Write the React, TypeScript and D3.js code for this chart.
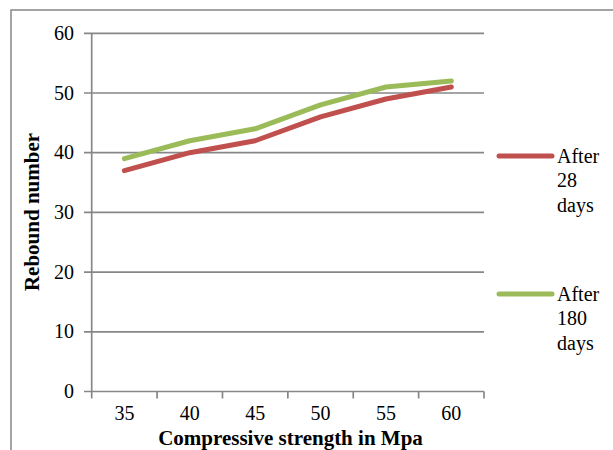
import React from "react";
import * as d3 from "d3";

const categories = ["35", "40", "45", "50", "55", "60"];
const after28 = [37, 40, 42, 46, 49, 51];
const after180 = [39, 42, 44, 48, 51, 52];
const yTicks = [0, 10, 20, 30, 40, 50, 60];
const seriesNames = [["After", "28", "days"], ["After", "180", "days"]];
const colors = ["#C0504D", "#9BBB59"];

export default function App() {
  const left = 91.7, right = 484, top = 33.3, bottom = 391.5;
  const x = d3.scaleBand().domain(categories).range([left, right]);
  const y = d3.scaleLinear().domain([0, 60]).range([bottom, top]);
  const line = d3
    .line<number>()
    .x((_, i) => (x(categories[i]) as number) + x.bandwidth() / 2)
    .y((d) => y(d));
  const series = [after28, after180];
  const grid = "#878787";
  const font = "'Liberation Serif', 'Times New Roman', serif";
  const legendY = [156, 294];
  return (
    <svg
      width={613}
      height={450}
      style={{ position: "absolute", left: 0, top: 0, background: "#fff" }}
      fontFamily={font}
    >
      <rect x={11} y={10} width={700} height={600} fill="#fff" stroke={grid} strokeWidth={1.5} />
      {yTicks.map((t) => (
        <g key={t}>
          <line x1={84} x2={right} y1={y(t)} y2={y(t)} stroke={grid} strokeWidth={1.7} />
          <text x={74} y={y(t) + 6.5} textAnchor="end" fontSize={20} fill="#000">
            {t}
          </text>
        </g>
      ))}
      <line x1={left} x2={left} y1={top} y2={bottom} stroke={grid} strokeWidth={1.7} />
      {[...categories.map((c) => x(c) as number), right].map((v, i) => (
        <line key={i} x1={v} x2={v} y1={bottom} y2={bottom + 7} stroke={grid} strokeWidth={1.7} />
      ))}
      {categories.map((c) => (
        <text
          key={c}
          x={(x(c) as number) + x.bandwidth() / 2}
          y={420}
          textAnchor="middle"
          fontSize={20}
          fill="#000"
        >
          {c}
        </text>
      ))}
      {series.map((s, i) => (
        <path
          key={i}
          d={line(s) || ""}
          fill="none"
          stroke={colors[i]}
          strokeWidth={5}
          strokeLinecap="round"
          strokeLinejoin="round"
        />
      ))}
      <text x={290.5} y={445} textAnchor="middle" fontSize={21} fontWeight="bold" fill="#000">
        Compressive strength in Mpa
      </text>
      <text
        transform={`translate(39,212) rotate(-90)`}
        textAnchor="middle"
        fontSize={21}
        fontWeight="bold"
        fill="#000"
      >
        Rebound number
      </text>
      {seriesNames.map((names, i) => (
        <g key={i}>
          <line
            x1={499}
            x2={552}
            y1={legendY[i]}
            y2={legendY[i]}
            stroke={colors[i]}
            strokeWidth={5}
            strokeLinecap="round"
          />
          {names.map((n, j) => (
            <text key={j} x={557} y={legendY[i] + 6.5 + j * 24.5} fontSize={20} fill="#000">
              {n}
            </text>
          ))}
        </g>
      ))}
    </svg>
  );
}
